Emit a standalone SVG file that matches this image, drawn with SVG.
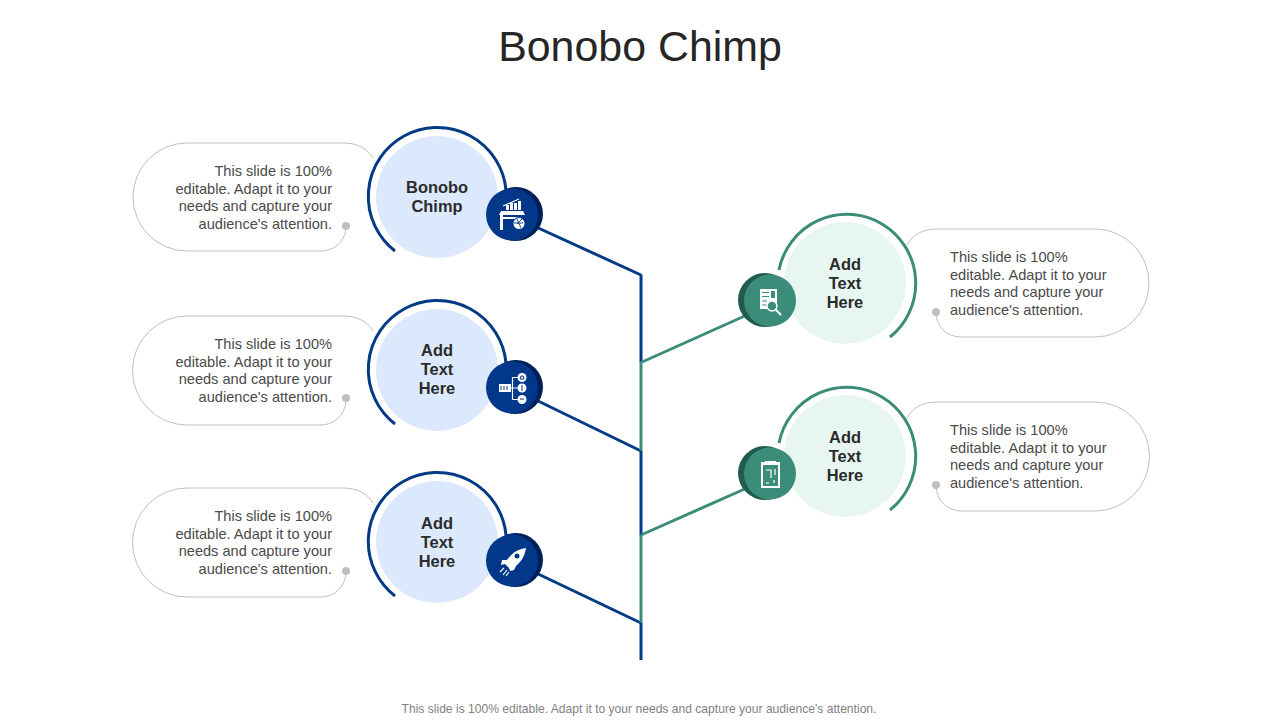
<svg xmlns="http://www.w3.org/2000/svg" width="1280" height="720" viewBox="0 0 1280 720">
<style>
text{font-family:"Liberation Sans",Arial,sans-serif}
.title{font-size:42.9px;fill:#262626;text-anchor:middle}
.foot{font-size:12.1px;fill:#7f7f7f;text-anchor:middle}
.body{font-size:14.6px;fill:#4a4a4a}
.r{text-anchor:end}
.lab{font-size:16.4px;font-weight:bold;fill:#2b2b2b;text-anchor:middle}
.call{fill:none;stroke:#bfbfbf;stroke-width:1}
.dot{fill:#bfbfbf}
.navy{fill:none;stroke:#023a85;stroke-width:3}
.green{fill:none;stroke:#3b8c78;stroke-width:3}
.ln{fill:none;stroke-width:3}
.ic{fill:#fff}
.ics{fill:none;stroke:#fff;stroke-width:1.2}
.dk{fill:#01205a}
.mn{fill:#02378a}
.dg{fill:#1f5c4e}
.mg{fill:#3b8c78}
</style>
<rect width="1280" height="720" fill="#fff"/>
<text class="title" x="640" y="61">Bonobo Chimp</text>
<g id="connectors">
<path class="ln" stroke="#023a85" d="M641 274.500V362.500M641 450.500V535M641 622.500V660M535 226.500L641 275M535 399.500L641 451M535 572.500L641 623"/>
<path class="ln" stroke="#3b8c78" d="M641 362.500V450.500M641 535V622.500M641 362.500L748 314.500M641 535L748 487.500"/>
</g>
<g id="node-1">
<path class="call" d="M373 158C367 148 357 143 343 143H187A54 54 0 0 0 187 251H320C336 251 346 240 346 226"/>
<circle class="dot" cx="346" cy="226" r="4"/>
<text class="body r"><tspan x="332" y="176">This slide is 100%</tspan><tspan x="332" y="194">editable. Adapt it to your</tspan><tspan x="332" y="211">needs and capture your</tspan><tspan x="332" y="229">audience's attention.</tspan></text>
<circle cx="437" cy="197" r="61" fill="#dce8fc"/>
<path class="navy" d="M395 251A69 69 0 1 1 506 190"/>
<text class="lab"><tspan x="437" y="193">Bonobo</tspan><tspan x="437" y="212">Chimp</tspan></text>
<circle class="dk" cx="516" cy="214" r="27"/><circle class="mn" cx="512" cy="214.500" r="26"/>
<path class="ic" d="M499 215l2 -4h22l2 4zM500 215h3v15h-3zM503 217h18v2h-18zM519 217h2v5h-2zM506 205h3v5h-3zM510 203h3v7h-3zM514 203h3v7h-3zM518 201h3v9h-3z"/>
<path class="ics" d="M503 206L519 199"/>
<circle cx="519" cy="223.500" r="6.500" fill="#02378a"/><circle class="ic" cx="519" cy="223.500" r="5.500"/><path d="M514 223h9M517 219l4 9M522 219l-5 5" stroke="#02378a" stroke-width=".9" fill="none"/>
</g>
<g id="node-2">
<path class="call" d="M373 331C367 321 357 316 343 316H187A54 54 0 0 0 187 425H320C336 425 346 413 346 399"/>
<circle class="dot" cx="346" cy="398" r="4"/>
<text class="body r"><tspan x="332" y="349">This slide is 100%</tspan><tspan x="332" y="367">editable. Adapt it to your</tspan><tspan x="332" y="384">needs and capture your</tspan><tspan x="332" y="402">audience's attention.</tspan></text>
<circle cx="437" cy="370" r="61" fill="#dce8fc"/>
<path class="navy" d="M395 424A69 69 0 1 1 506 363"/>
<text class="lab"><tspan x="437" y="356">Add</tspan><tspan x="437" y="375">Text</tspan><tspan x="437" y="394">Here</tspan></text>
<circle class="dk" cx="516" cy="387" r="27"/><circle class="mn" cx="512" cy="387.500" r="26"/>
<rect class="ic" x="499" y="384" width="12" height="8"/>
<path d="M501 386v4M504 386v4M507 386v4" stroke="#02378a" stroke-width="1"/>
<path class="ics" d="M511 388H518M512.500 377.500V399.500M512.500 377.500H518M512.500 399.500H518"/>
<circle class="ic" cx="522" cy="377.500" r="4.500"/><circle class="ic" cx="522" cy="388" r="4.500"/><circle class="ic" cx="522" cy="399.500" r="4.500"/>
<path d="M520 379h4l-1 -3h-2zM522 385v6M520 399h4" stroke="#02378a" stroke-width="1" fill="none"/>
</g>
<g id="node-3">
<path class="call" d="M373 503C367 493 357 488 343 488H187A54 54 0 0 0 187 597H320C336 597 346 585 346 571"/>
<circle class="dot" cx="346" cy="571" r="4"/>
<text class="body r"><tspan x="332" y="521">This slide is 100%</tspan><tspan x="332" y="539">editable. Adapt it to your</tspan><tspan x="332" y="556">needs and capture your</tspan><tspan x="332" y="574">audience's attention.</tspan></text>
<circle cx="437" cy="542" r="61" fill="#dce8fc"/>
<path class="navy" d="M395 596A69 69 0 1 1 506 535"/>
<text class="lab"><tspan x="437" y="529">Add</tspan><tspan x="437" y="548">Text</tspan><tspan x="437" y="567">Here</tspan></text>
<circle class="dk" cx="516" cy="560" r="27"/><circle class="mn" cx="512" cy="560.500" r="26"/>
<path class="ic" d="M526 548C518 549 512 553 507 560L502 560L501 565L505 564L509 568L510 571L514 570L516 566C522 561 525 555 526 548Z"/>
<circle cx="517" cy="556" r="2.500" fill="#02378a"/>
<path class="ics" d="M504 568L500 572M507 570L503 575M509 572L506 576"/>
</g>
<g id="node-4">
<path class="call" d="M907 245C913 234 923 229 938 229H1095A54 54 0 0 1 1095 337H962C946 337 936 326 936 312"/>
<circle class="dot" cx="936" cy="312" r="4"/>
<text class="body"><tspan x="950" y="262">This slide is 100%</tspan><tspan x="950" y="280">editable. Adapt it to your</tspan><tspan x="950" y="297">needs and capture your</tspan><tspan x="950" y="315">audience's attention.</tspan></text>
<circle cx="845" cy="283" r="61" fill="#e8f6f2"/>
<path class="green" d="M779 270A69 69 0 1 1 890 337"/>
<text class="lab"><tspan x="845" y="270">Add</tspan><tspan x="845" y="289">Text</tspan><tspan x="845" y="308">Here</tspan></text>
<circle class="dg" cx="765" cy="300" r="27"/><circle class="mg" cx="770" cy="300.500" r="26"/>
<rect class="ic" x="760" y="289" width="17" height="20"/>
<path d="M762 292.500h7M762 296.500h7M762 301h5M762 305h5" stroke="#3b8c78" stroke-width="1"/><rect class="mg" x="771" y="291" width="4" height="7"/>
<circle cx="772" cy="306" r="5" fill="#3b8c78" stroke="#fff" stroke-width="1.400"/><path d="M775.500 309.500L781 315" stroke="#fff" stroke-width="2"/>
</g>
<g id="node-5">
<path class="call" d="M907 418C913 407 923 402 938 402H1095A54 54 0 0 1 1095 511H962C946 511 936 499 936 485"/>
<circle class="dot" cx="936" cy="485" r="4"/>
<text class="body"><tspan x="950" y="435">This slide is 100%</tspan><tspan x="950" y="453">editable. Adapt it to your</tspan><tspan x="950" y="470">needs and capture your</tspan><tspan x="950" y="488">audience's attention.</tspan></text>
<circle cx="845" cy="456" r="61" fill="#e8f6f2"/>
<path class="green" d="M779 443A69 69 0 1 1 890 510"/>
<text class="lab"><tspan x="845" y="443">Add</tspan><tspan x="845" y="462">Text</tspan><tspan x="845" y="481">Here</tspan></text>
<circle class="dg" cx="765" cy="473" r="27"/><circle class="mg" cx="770" cy="473.500" r="26"/>
<rect class="ic" x="761" y="462" width="19" height="26"/>
<rect class="mg" x="763" y="465" width="15" height="21"/>
<rect class="ic" x="765" y="461" width="11" height="3"/>
<path class="ics" d="M766 470h5v8M775 469v6M766 483h3M774 480v3" stroke-width="1"/>
</g>
<text class="foot" x="639" y="713">This slide is 100% editable. Adapt it to your needs and capture your audience's attention.</text>
</svg>
